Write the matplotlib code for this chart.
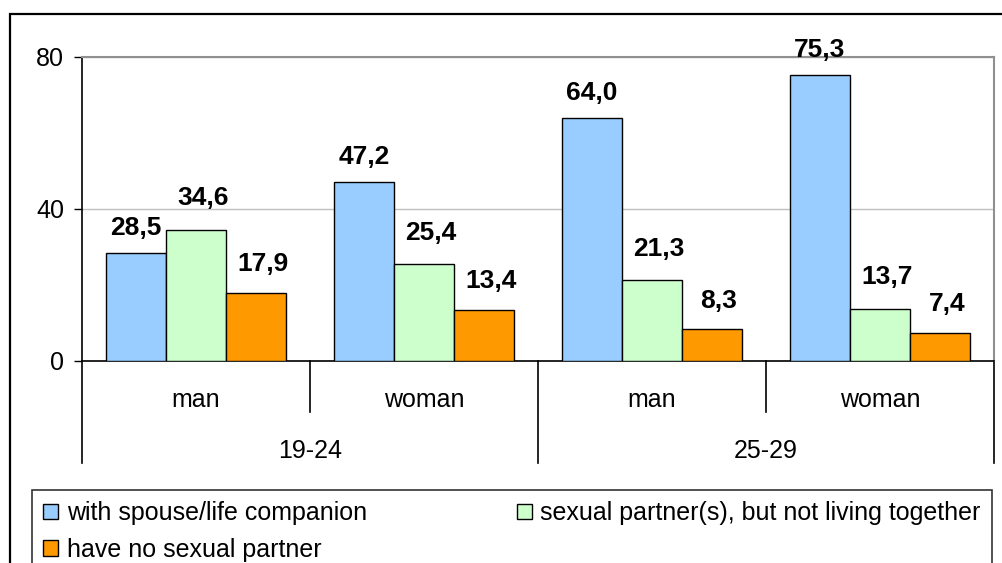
import numpy as np
import matplotlib
matplotlib.use("Agg")
import matplotlib.pyplot as plt
from matplotlib.patches import Rectangle
import matplotlib.transforms as mtransforms

plt.rcParams['font.family'] = ['Liberation Sans', 'DejaVu Sans']

# data
sex_labels = ["man", "woman", "man", "woman"]
age_groups = ["19-24", "25-29"]
series_names = ["with spouse/life companion",
                "sexual partner(s), but not living together",
                "have no sexual partner"]
spouse = [28.5, 47.2, 64.0, 75.3]
partner_apart = [34.6, 25.4, 21.3, 13.7]
no_partner = [17.9, 13.4, 8.3, 7.4]

colors = ["#99CCFF", "#CCFFCC", "#FF9900"]
label_offsets = [(0, 9), (5, 14), (5, 12)]   # points, per series
fs = 18

W, H = 1003, 563
fig = plt.figure(figsize=(W / 100, H / 100), dpi=100)

# outer chart frame
fig.patches.append(Rectangle((10 / W, -0.1), 1.2, 1 - 14 / H + 0.1,
                             transform=fig.transFigure, fill=False,
                             edgecolor="black", linewidth=1.6))

ax = fig.add_axes([82 / W, 1 - 361 / H, (994 - 82) / W, (361 - 57) / H])

x = np.arange(len(sex_labels))
bw = 60 / 228
all_series = [spouse, partner_apart, no_partner]
bars = []
for i, vals in enumerate(all_series):
    b = ax.bar(x + (i - 1) * bw, vals, bw, color=colors[i], edgecolor="black",
               linewidth=1.0, label=series_names[i], zorder=3)
    bars.append(b)
    for xi, v in zip(x + (i - 1) * bw, vals):
        ax.annotate(("%.1f" % v).replace(".", ","), (xi, v),
                    xytext=label_offsets[i], textcoords="offset points",
                    ha="center", va="bottom", fontsize=19, fontweight="bold",
                    zorder=4)

ax.set_xlim(-0.5, 3.5)
ax.set_ylim(0, 80)
ax.set_yticks([0, 40, 80])
ax.tick_params(axis="y", length=6, width=1, pad=7, labelsize=fs)
ax.set_xticks([])
ax.yaxis.grid(True, color="#c0c0c0", linewidth=1, zorder=0)
ax.spines["left"].set_color("black")
ax.spines["bottom"].set_color("black")
ax.spines["bottom"].set_linewidth(1.2)
ax.spines["left"].set_linewidth(1.2)
ax.spines["top"].set_color("#909090")
ax.spines["right"].set_color("#909090")
ax.spines["top"].set_linewidth(1.5)
ax.spines["right"].set_linewidth(1.5)

# two-level category axis
trans = mtransforms.blended_transform_factory(ax.transData, ax.transAxes)
ax_h = 361 - 57
for xs in [0.5, 2.5]:
    ax.plot([xs, xs], [0, -51 / ax_h], color="black", lw=1.2,
            transform=trans, clip_on=False)
for xs in [-0.5, 1.5, 3.5]:
    ax.plot([xs, xs], [0, -102 / ax_h], color="black", lw=1.2,
            transform=trans, clip_on=False)
for xi, lab in zip(x, sex_labels):
    ax.text(xi, -39 / ax_h, lab, transform=trans, ha="center", va="center",
            fontsize=fs)
for gi, lab in enumerate(age_groups):
    ax.text(0.5 + 2 * gi, -90 / ax_h, lab, transform=trans, ha="center",
            va="center", fontsize=fs)

# legend filled row by row: spouse, partner | no partner
order = [0, 2, 1]
leg = fig.legend(handles=[bars[k] for k in order],
                 labels=[series_names[k] for k in order], ncol=2,
                 loc="upper left", mode="expand",
                 bbox_to_anchor=(32 / W, 1 - 490 / H, (992 - 32) / W, 0.0),
                 fontsize=fs, frameon=True, fancybox=False,
                 edgecolor="black", borderpad=0.45, labelspacing=0.5,
                 handlelength=0.6, handleheight=0.6, handletextpad=0.35,
                 borderaxespad=0, columnspacing=1.0)
leg.get_frame().set_linewidth(1.2)

fig.savefig("out.png", dpi=100)
